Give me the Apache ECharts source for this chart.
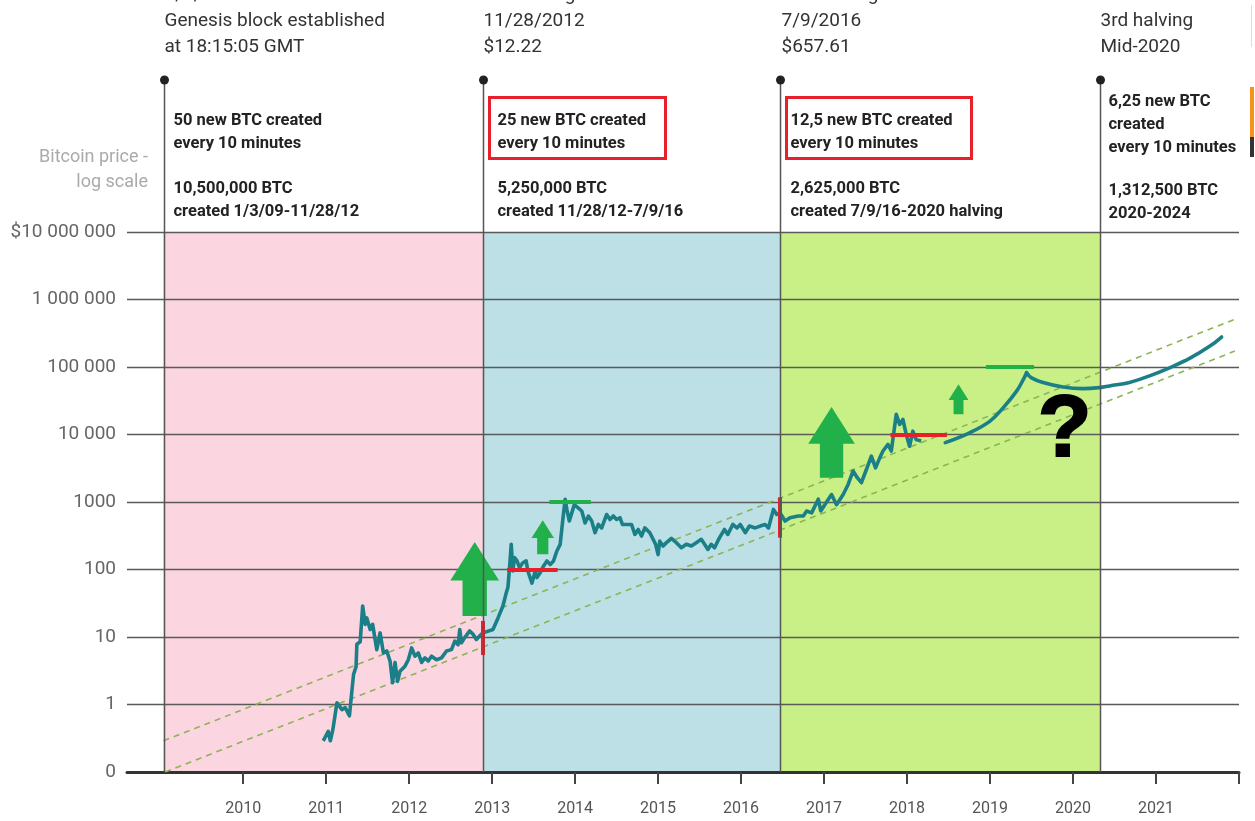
<!DOCTYPE html>
<html>
<head>
<meta charset="utf-8">
<script src="https://cdn.jsdelivr.net/npm/echarts@6/dist/echarts.min.js"></script>
<style>
  html, body { margin: 0; padding: 0; background: #fff; }
  #chart { width: 1255px; height: 821px; }
</style>
</head>
<body>
<div id="chart"></div>
<script>
// ---- data ----
const yearTicks = [2010, 2011, 2012, 2013, 2014, 2015, 2016, 2017, 2018, 2019, 2020, 2021, 2022];
const yearLabels = [2010, 2011, 2012, 2013, 2014, 2015, 2016, 2017, 2018, 2019, 2020, 2021];
const yTickLabels = ['0', '1', '10', '100', '1000', '10 000', '100 000', '1 000 000', '$10 000 000'];

// block-reward eras: genesis, 1st, 2nd and 3rd halving
const eraBounds = [2009.04, 2012.89, 2016.47, 2020.33];

const eraTitles = [
  ['1/3/2009', 'Genesis block established', 'at 18:15:05 GMT'],
  ['1st halving', '11/28/2012', '$12.22'],
  ['2nd halving', '7/9/2016', '$657.61'],
  ['', '3rd halving', 'Mid-2020']
];
const eraRewards = [
  ['50 new BTC created', 'every 10 minutes'],
  ['25 new BTC created', 'every 10 minutes'],
  ['12,5 new BTC created', 'every 10 minutes'],
  ['6,25 new BTC', 'created', 'every 10 minutes']
];
const eraSupply = [
  ['10,500,000 BTC', 'created 1/3/09-11/28/12'],
  ['5,250,000 BTC', 'created 11/28/12-7/9/16'],
  ['2,625,000 BTC', 'created 7/9/16-2020 halving'],
  ['1,312,500 BTC', '2020-2024']
];

// BTC price in USD, [year, price]
const priceHistory = [
  [2010.965, 0.29], [2011.025, 0.40], [2011.05, 0.29], [2011.08, 0.42], [2011.13, 1.06], [2011.19, 0.84],
  [2011.23, 0.90], [2011.28, 0.68], [2011.33, 2.8], [2011.36, 3.6], [2011.37, 7.8], [2011.41, 8.5],
  [2011.44, 28.8], [2011.47, 15.4], [2011.49, 19.2], [2011.53, 12.9], [2011.56, 15.4], [2011.61, 6.5],
  [2011.65, 11.5], [2011.69, 5.8], [2011.73, 6.2], [2011.77, 4.4], [2011.80, 2.1], [2011.83, 4.2],
  [2011.86, 2.2], [2011.89, 3.1], [2011.95, 3.7], [2011.99, 4.6], [2012.03, 6.9], [2012.07, 5.2],
  [2012.11, 5.8], [2012.15, 4.2], [2012.19, 4.9], [2012.23, 4.4], [2012.27, 5.2], [2012.33, 4.6],
  [2012.39, 4.9], [2012.45, 6.2], [2012.51, 6.5], [2012.55, 8.7], [2012.59, 7.7], [2012.61, 12.9],
  [2012.63, 8.2], [2012.67, 9.8], [2012.73, 12.3], [2012.77, 11.0], [2012.81, 9.2], [2012.85, 10.4],
  [2012.89, 11.5], [2013.01, 12.9], [2013.07, 19], [2013.13, 28.8], [2013.17, 45], [2013.19, 54],
  [2013.21, 107], [2013.23, 236], [2013.25, 95], [2013.27, 150], [2013.30, 134], [2013.33, 107],
  [2013.37, 126], [2013.41, 134], [2013.43, 95], [2013.48, 63], [2013.52, 95], [2013.54, 76],
  [2013.58, 90], [2013.62, 113], [2013.66, 134], [2013.70, 119], [2013.74, 134], [2013.78, 188],
  [2013.82, 236], [2013.85, 523], [2013.88, 1100], [2013.90, 777], [2013.93, 523], [2013.96, 690],
  [2013.99, 912], [2014.04, 813], [2014.08, 736], [2014.12, 490], [2014.16, 620], [2014.20, 523],
  [2014.24, 351], [2014.28, 465], [2014.32, 413], [2014.38, 653], [2014.42, 550], [2014.46, 620],
  [2014.50, 550], [2014.54, 585], [2014.57, 465], [2014.62, 465], [2014.68, 465], [2014.72, 331],
  [2014.76, 392], [2014.80, 313], [2014.84, 413], [2014.90, 351], [2014.94, 280], [2014.97, 236],
  [2015.00, 166], [2015.02, 263], [2015.06, 223], [2015.10, 250], [2015.16, 290], [2015.22, 250],
  [2015.28, 210], [2015.34, 236], [2015.40, 223], [2015.46, 250], [2015.52, 280], [2015.56, 236],
  [2015.60, 198], [2015.64, 236], [2015.68, 210], [2015.74, 297], [2015.80, 392], [2015.84, 331],
  [2015.90, 465], [2015.95, 413], [2015.99, 465], [2016.05, 351], [2016.10, 440], [2016.17, 413],
  [2016.23, 440], [2016.29, 465], [2016.33, 413], [2016.39, 777], [2016.43, 653], [2016.47, 690],
  [2016.53, 523], [2016.59, 585], [2016.69, 620], [2016.75, 620], [2016.79, 736], [2016.85, 690],
  [2016.93, 1100], [2016.96, 736], [2017.03, 1000], [2017.09, 1290], [2017.15, 912], [2017.23, 1290],
  [2017.29, 1820], [2017.35, 2880], [2017.40, 2290], [2017.45, 1930], [2017.51, 3030], [2017.57, 4790],
  [2017.62, 3200], [2017.67, 4470], [2017.71, 5690], [2017.77, 7120], [2017.81, 5690], [2017.87, 19900],
  [2017.91, 14100], [2017.95, 16700], [2017.99, 10000], [2018.03, 6700], [2018.07, 11200], [2018.11, 8400],
  [2018.17, 8000]
];

// projected path: run-up into the halving, then after it
const projectionRise = [
  [2018.46, 7580], [2018.76, 10700], [2019.00, 15800], [2019.16, 25000],
  [2019.32, 43900], [2019.40, 65000], [2019.44, 82400]
];
const projectionAfter = [
  [2019.44, 82400], [2019.50, 69000], [2019.64, 58900], [2019.88, 50400], [2020.12, 47800],
  [2020.32, 49500], [2020.44, 52400], [2020.68, 59000], [2020.93, 74500], [2021.17, 98000],
  [2021.41, 135000], [2021.65, 204000], [2021.79, 278000]
];

// log-linear growth channel
const trendUpper = [[2009.04, 0.29], [2021.95, 510000]];
const trendLower = [[2009.06, 0.1], [2021.95, 172000]];

// halving price level and previous-cycle resistance (red)
const halvingMarks = [
  [[2012.89, 5.4], [2012.89, 17.3]],
  [[2013.18, 100], [2013.79, 100]],
  [[2016.47, 296], [2016.47, 1175]],
  [[2017.80, 10000], [2018.48, 10000]]
];
// cycle tops (green)
const cycleTops = [
  [[2013.69, 1000], [2014.19, 1000]],
  [[2018.95, 100000], [2019.53, 100000]]
];
// growth arrows: [year, from price, to price]
const growthArrows = [
  [2012.79, 20.5, 255],
  [2013.61, 168, 536],
  [2017.09, 2290, 25500],
  [2018.62, 19900, 55500]
];
const questionAnchor = [2019.90, 11000];

// ---- styles ----
const eraFills = ['#fbd6e1', '#bde0e6', '#c8f086'];
const teal = '#1b7f87';
const red = '#e8202a';
const green = '#22b04b';
const FONT = 'Roboto';

const chart = echarts.init(document.getElementById('chart'), null, { renderer: 'canvas' });

const bandData = eraFills.map((c, i) => [eraBounds[i], eraBounds[i + 1], i]);

const option = {
  animation: false,
  backgroundColor: '#fff',
  grid: { left: 127, right: 16, top: 232, bottom: 49 },
  xAxis: {
    type: 'value',
    min: 2008.6,
    max: 2022,
    axisLine: { show: true, lineStyle: { color: '#333', width: 3 } },
    axisTick: { show: true, customValues: yearTicks, length: 12, lineStyle: { color: '#444', width: 2 } },
    axisLabel: {
      customValues: yearLabels,
      formatter: v => String(Math.round(v)),
      margin: 29, fontSize: 16, color: '#555', fontFamily: FONT
    },
    splitLine: { show: false }
  },
  yAxis: {
    type: 'log',
    logBase: 10,
    min: 0.1,
    max: 1e7,
    interval: 1,
    splitNumber: 8,
    axisLine: { show: false },
    axisTick: { show: false },
    axisLabel: {
      formatter: v => yTickLabels[Math.round(Math.log10(v)) + 1],
      margin: 11, fontSize: 19, color: '#666', fontFamily: FONT
    },
    splitLine: { show: true, lineStyle: { color: '#5a5a5a', width: 1.3 } }
  },
  series: [
    {
      // era bands
      type: 'custom',
      z: -1,
      silent: true,
      data: bandData,
      encode: { x: [0, 1] },
      renderItem: (params, api) => {
        const a = api.coord([api.value(0), 1e7]);
        const b = api.coord([api.value(1), 0.1]);
        return {
          type: 'rect',
          shape: { x: a[0], y: a[1], width: b[0] - a[0], height: b[1] - a[1] },
          style: { fill: eraFills[api.value(2)] }
        };
      }
    },
    {
      type: 'line', data: trendUpper, showSymbol: false, silent: true, z: 2,
      lineStyle: { color: '#8cb456', width: 1.6, type: [6, 5] }
    },
    {
      type: 'line', data: trendLower, showSymbol: false, silent: true, z: 2,
      lineStyle: { color: '#8cb456', width: 1.6, type: [6, 5] }
    },
    {
      type: 'line', data: priceHistory, showSymbol: false, silent: true, z: 3,
      lineStyle: { color: teal, width: 3.6, join: 'round' }
    },
    {
      type: 'line', data: projectionRise, showSymbol: false, silent: true, z: 3, smooth: 0.4,
      lineStyle: { color: teal, width: 3.6, cap: 'round' }
    },
    {
      type: 'line', data: projectionAfter, showSymbol: false, silent: true, z: 3, smooth: 0.4,
      lineStyle: { color: teal, width: 3.6, cap: 'round' }
    },
    {
      type: 'line', data: [], silent: true, z: 5,
      markLine: {
        silent: true, symbol: ['none', 'none'], label: { show: false },
        lineStyle: { color: red, width: 4, type: 'solid' },
        data: halvingMarks.map(s => [{ coord: s[0] }, { coord: s[1] }])
      }
    },
    {
      type: 'line', data: [], silent: true, z: 5,
      markLine: {
        silent: true, symbol: ['none', 'none'], label: { show: false },
        lineStyle: { color: green, width: 4, type: 'solid' },
        data: cycleTops.map(s => [{ coord: s[0] }, { coord: s[1] }])
      }
    },
    {
      // growth arrows, proportioned from their own length
      type: 'custom',
      z: 4,
      silent: true,
      data: growthArrows,
      encode: { x: 0, y: [1, 2] },
      renderItem: (params, api) => {
        const x = api.value(0);
        const p0 = api.coord([x, api.value(1)]);
        const p1 = api.coord([x, api.value(2)]);
        const L = p0[1] - p1[1];
        const hl = L * 0.52, hw = L * 0.33, sw = L * 0.165;
        const cx = p0[0];
        const yb = p0[1], yt = p1[1], yh = p1[1] + hl;
        return {
          type: 'polygon',
          shape: { points: [[cx - sw, yb], [cx + sw, yb], [cx + sw, yh], [cx + hw, yh], [cx, yt], [cx - hw, yh], [cx - sw, yh]] },
          style: { fill: green }
        };
      }
    }
  ]
};

chart.setOption(option);

// ---- annotations above the plot ----
const px = (x, y) => chart.convertToPixel({ gridIndex: 0 }, [x, y]);
const graphics = [];
const baseY = px(2010, 0.1)[1];
const lineTop = 80;
const titleOffsets = [0, 0, 1, 0];
const noteOffsets = [9, 14, 10, 8];
const boxSpecs = [null, { dx: 6, w: 176 }, { dx: 6, w: 185 }, null];

eraBounds.forEach((yr, i) => {
  const x = Math.round(px(yr, 1)[0]) + 0.5;
  graphics.push({
    type: 'line', z: 20, silent: true,
    shape: { x1: x, y1: lineTop, x2: x, y2: baseY },
    style: { stroke: '#555', lineWidth: 1.5 }
  });
  graphics.push({
    type: 'circle', z: 21, silent: true,
    shape: { cx: x, cy: lineTop, r: 4.5 },
    style: { fill: '#222' }
  });
  eraTitles[i].forEach((t, k) => {
    if (!t) return;
    graphics.push({
      type: 'text', z: 21, silent: true, x: x + titleOffsets[i], y: -5 + k * 26,
      style: { text: t, fontFamily: FONT, fontSize: 19, fill: '#333', textVerticalAlign: 'middle', textAlign: 'left' }
    });
  });
  const firstY = i === 3 ? 102 : 121;
  eraRewards[i].forEach((t, k) => {
    graphics.push({
      type: 'text', z: 21, silent: true, x: x + noteOffsets[i], y: firstY + k * 23,
      style: { text: t, fontFamily: FONT, fontWeight: 'bold', fontSize: 16.5, fill: '#222', textVerticalAlign: 'middle' }
    });
  });
  const supplyY = i === 3 ? 191 : 189;
  eraSupply[i].forEach((t, k) => {
    graphics.push({
      type: 'text', z: 21, silent: true, x: x + noteOffsets[i], y: supplyY + k * 23,
      style: { text: t, fontFamily: FONT, fontWeight: 'bold', fontSize: 16.5, fill: '#222', textVerticalAlign: 'middle' }
    });
  });
  const box = boxSpecs[i];
  if (box) {
    graphics.push({
      type: 'rect', z: 22, silent: true,
      shape: { x: x + box.dx, y: 97.5, width: box.w, height: 61 },
      style: { fill: 'none', stroke: red, lineWidth: 3 }
    });
  }
});

// axis caption
graphics.push({
  type: 'text', z: 21, silent: true, x: 148, y: 170,
  style: { text: 'Bitcoin price -\nlog scale', fontFamily: FONT, fontSize: 18, lineHeight: 25, fill: '#aaa', textAlign: 'right', textVerticalAlign: 'middle' }
});

// question mark over the projected path
const q = px(questionAnchor[0], questionAnchor[1]);
graphics.push({
  type: 'text', z: 21, silent: true, x: q[0], y: q[1],
  style: { text: '?', fontFamily: '"Liberation Sans", Arial, sans-serif', fontWeight: 'bold', fontSize: 88, fill: '#000', stroke: '#000', lineWidth: 2, textAlign: 'center', textVerticalAlign: 'middle' }
});

// sliver of a neighbouring panel on the right edge
graphics.push({ type: 'line', z: 21, silent: true, shape: { x1: 1251.5, y1: 5, x2: 1251.5, y2: 47 }, style: { stroke: '#ddd', lineWidth: 1 } });
graphics.push({ type: 'rect', z: 21, silent: true, shape: { x: 1250, y: 87, width: 4, height: 50 }, style: { fill: '#f7931a' } });
graphics.push({ type: 'rect', z: 21, silent: true, shape: { x: 1250, y: 137, width: 4, height: 20 }, style: { fill: '#333' } });

chart.setOption({ graphic: graphics });
</script>
</body>
</html>
